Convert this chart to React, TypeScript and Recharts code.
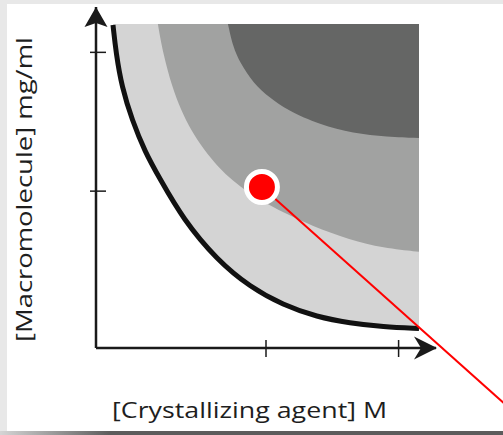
import React from "react";
import {
  ComposedChart,
  Area,
  Line,
  Scatter,
  XAxis,
  YAxis,
  Label,
  ReferenceLine,
  ReferenceDot,
} from "recharts";

// --- data (axis units 0..10, schematic phase diagram) ---

const BOX_TOP = 9.5;

// solubility curve (black line), lower edge of the metastable zone
const solubilityX = [0.5, 0.59, 0.76, 1.06, 1.44, 1.88, 2.56, 3.56, 4.53, 5.5, 6.5, 7.47, 8.44, 9.5];
const solubilityY = [9.47, 8.65, 7.65, 6.69, 5.75, 4.96, 3.78, 2.58, 1.79, 1.26, 0.91, 0.73, 0.62, 0.57];

// nucleation zone boundary
const nucleationX = [1.82, 1.97, 2.24, 2.5, 2.79, 3.18, 3.59, 4.03, 4.47, 4.94, 5.47, 6.35, 7.47, 8.44, 9.5];
const nucleationY = [9.5, 8.65, 7.65, 6.98, 6.39, 5.81, 5.31, 4.9, 4.57, 4.28, 3.99, 3.58, 3.17, 2.93, 2.82];

// precipitation zone boundary
const precipitationX = [3.88, 4.03, 4.24, 4.62, 5.12, 5.62, 6.59, 7.56, 8.56, 9.5];
const precipitationY = [9.5, 8.83, 8.36, 7.77, 7.33, 6.98, 6.54, 6.3, 6.19, 6.16];

const xTicks = [5, 8.9];
const yTicks = [4.6, 8.67];

// the marked experiment and where its pointer leaves the frame
const dropPoint = { x: 4.88, y: 4.72 };
const pointerEnd = { x: 12.1, y: -1.71 };

const xTitle = "[Crystallizing agent] M";
const yTitle = "[Macromolecule] mg/ml";

// --- series tables ---

const band = (xs: number[], ys: number[]) =>
  xs.map((x, i) => ({ x, band: [ys[i], BOX_TOP] }));

const metastableData = band(solubilityX, solubilityY);
const nucleationData = band(nucleationX, nucleationY);
const precipitationData = band(precipitationX, precipitationY);
const solubilityData = solubilityX.map((x, i) => ({ x, y: solubilityY[i] }));
const arrowData = [
  { x: 10, y: 0, dir: "right" },
  { x: 0, y: 10, dir: "up" },
];

const INK = "#1a1a1a";
const FONT = "'Open Sans', 'DejaVu Sans', sans-serif";

const XTick = ({ x, y }: any) => (
  <line x1={x} x2={x} y1={y - 8} y2={y + 9} stroke={INK} strokeWidth={1.5} />
);

const YTick = ({ x, y }: any) => (
  <line x1={x - 6} x2={x + 10} y1={y} y2={y} stroke={INK} strokeWidth={1.5} />
);

const Arrowhead = (props: any) => {
  const { cx, cy, payload } = props;
  const pts =
    payload.dir === "right"
      ? [
          [cx + 1, cy],
          [cx - 22, cy - 11.5],
          [cx - 15, cy],
          [cx - 22, cy + 11.5],
        ]
      : [
          [cx, cy],
          [cx - 11.5, cy + 20],
          [cx, cy + 16],
          [cx + 11.5, cy + 20],
        ];
  return <polygon points={pts.map((p) => p.join(",")).join(" ")} fill={INK} />;
};

const XTitle = ({ viewBox }: any) => (
  <text
    x={viewBox.x + 16}
    y={viewBox.y + 70}
    textLength={275}
    lengthAdjust="spacingAndGlyphs"
    fontFamily={FONT}
    fontSize={22}
    fill="#1e1e1e"
  >
    {xTitle}
  </text>
);

const YTitle = ({ viewBox }: any) => (
  <text
    transform={`translate(${viewBox.x - 24},${viewBox.y + viewBox.height - 6}) rotate(-90)`}
    textLength={305}
    lengthAdjust="spacingAndGlyphs"
    fontFamily={FONT}
    fontSize={22}
    fill="#1e1e1e"
  >
    {yTitle}
  </text>
);

export default function App() {
  return (
    <div
      style={{
        position: "fixed",
        left: 0,
        top: 0,
        width: 503,
        height: 435,
        background: "#e8e8e8",
        overflow: "hidden",
      }}
    >
      <div
        style={{
          position: "absolute",
          left: 7,
          top: 4,
          right: 0,
          height: 427,
          background: "#fff",
        }}
      />
      <div
        style={{
          position: "absolute",
          left: 0,
          top: 431,
          width: 503,
          height: 4,
          background: "linear-gradient(to right, #d5d5d5, #5c5c5c 22%, #5c5c5c)",
        }}
      />
      <div style={{ position: "absolute", left: 0, top: 0 }}>
        <ComposedChart
          width={503}
          height={435}
          margin={{ top: 7, right: 67, left: 56, bottom: 57 }}
        >
          <XAxis
            type="number"
            dataKey="x"
            domain={[0, 10]}
            ticks={xTicks}
            height={30}
            tickSize={0}
            tickMargin={0}
            tickLine={false}
            tick={XTick}
            axisLine={{ stroke: INK, strokeWidth: 2.5 }}
          >
            <Label content={XTitle} />
          </XAxis>
          <YAxis
            type="number"
            domain={[0, 10]}
            ticks={yTicks}
            width={40}
            tickSize={0}
            tickMargin={0}
            tickLine={false}
            tick={YTick}
            axisLine={{ stroke: INK, strokeWidth: 2.5 }}
          >
            <Label content={YTitle} />
          </YAxis>

          <Area
            data={metastableData}
            dataKey="band"
            type="basis"
            fill="#d4d4d4"
            fillOpacity={1}
            stroke="none"
            isAnimationActive={false}
          />
          <Area
            data={nucleationData}
            dataKey="band"
            type="basis"
            fill="#a1a2a1"
            fillOpacity={1}
            stroke="none"
            isAnimationActive={false}
          />
          <Area
            data={precipitationData}
            dataKey="band"
            type="basis"
            fill="#656665"
            fillOpacity={1}
            stroke="none"
            isAnimationActive={false}
          />
          <Line
            data={solubilityData}
            dataKey="y"
            type="basis"
            stroke="#111"
            strokeWidth={5}
            dot={false}
            activeDot={false}
            isAnimationActive={false}
          />
          <Scatter
            data={arrowData}
            dataKey="y"
            shape={Arrowhead}
            isAnimationActive={false}
          />
          <ReferenceLine
            segment={[dropPoint, pointerEnd]}
            stroke="#ff0000"
            strokeWidth={2}
            ifOverflow="visible"
          />
          <ReferenceDot
            x={dropPoint.x}
            y={dropPoint.y}
            r={15.5}
            fill="#ff0000"
            stroke="#fff"
            strokeWidth={5}
            ifOverflow="visible"
          />
        </ComposedChart>
      </div>
    </div>
  );
}
